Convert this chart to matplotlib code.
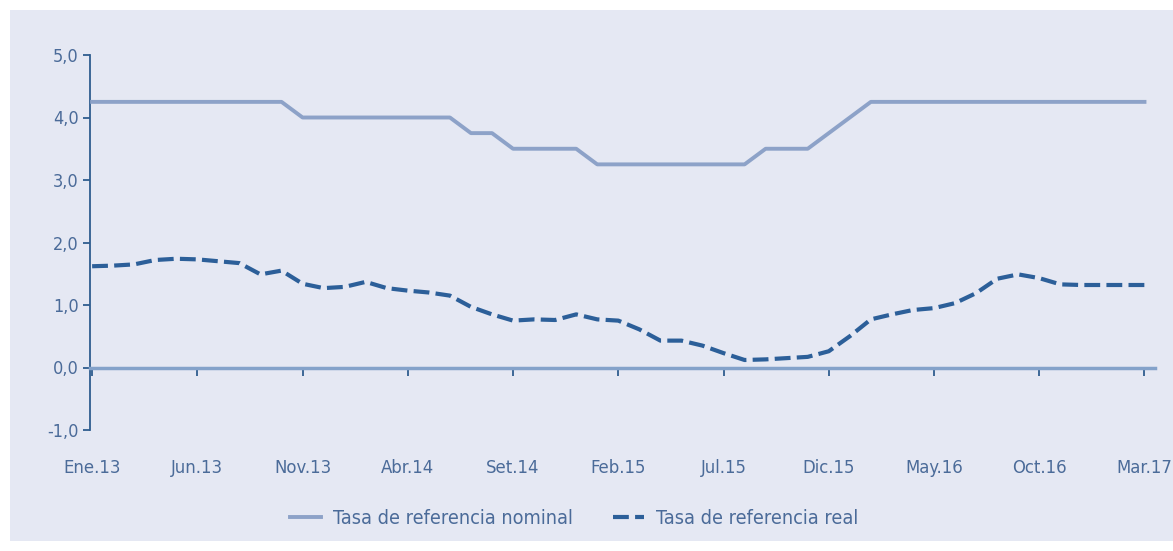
import matplotlib.pyplot as plt
import matplotlib.patches as mpatches
import numpy as np

months = ["Ene.13", "Jun.13", "Nov.13", "Abr.14", "Set.14", "Feb.15",
          "Jul.15", "Dic.15", "May.16", "Oct.16", "Mar.17"]

# monthly values, Ene.13 .. Mar.17 (51 months)
nominal = [4.25] * 10 + [4.00] * 8 + [3.75] * 2 + [3.50] * 4 + [3.25] * 8 \
    + [3.50] * 3 + [3.75, 4.00] + [4.25] * 14

real = [1.62, 1.63, 1.65, 1.72, 1.74, 1.73, 1.70, 1.67, 1.49, 1.55,
        1.34, 1.27, 1.29, 1.37, 1.27, 1.23, 1.20, 1.15, 0.97, 0.85,
        0.75, 0.77, 0.76, 0.85, 0.77, 0.75, 0.61, 0.43, 0.43, 0.35,
        0.23, 0.12, 0.13, 0.15, 0.17, 0.26, 0.50, 0.77, 0.85, 0.92,
        0.95, 1.03, 1.19, 1.42, 1.49, 1.43, 1.33, 1.32, 1.32, 1.32,
        1.32]

bg = "#e5e8f3"
txt = "#4b6b99"
c_nom = "#8da2c8"
c_real = "#2c5f99"

plt.rcParams['font.family'] = ['DejaVu Sans']
plt.rcParams['font.stretch'] = 'condensed'

fig = plt.figure(figsize=(11.73, 5.51), dpi=100)
fig.patch.set_facecolor("white")
# panel background
fig.patches.append(mpatches.Rectangle((10 / 1173, 10 / 551), 1 - 10 / 1173, 1 - 20 / 551,
                                      transform=fig.transFigure, facecolor=bg,
                                      edgecolor="none", zorder=-10))

ax = fig.add_axes([90 / 1173, 1 - 430 / 551, 1065 / 1173, 375 / 551])
ax.set_facecolor("none")

x = np.arange(len(real))
ax.plot(x, nominal, color=c_nom, lw=2.8, solid_joinstyle="round",
        label="Tasa de referencia nominal", zorder=3)
ax.plot(x, real, color=c_real, lw=3, dashes=(3.8, 1.5), dash_capstyle="butt",
        label="Tasa de referencia real", zorder=3)

ax.set_xlim(-0.1, 50.5)
ax.set_ylim(-1, 5)

for s in ["top", "right"]:
    ax.spines[s].set_visible(False)
ax.spines["left"].set_color("#2f5d8f")
ax.spines["left"].set_linewidth(1.3)
ax.spines["bottom"].set_position(("data", 0))
ax.spines["bottom"].set_color("#84a2ca")
ax.spines["bottom"].set_linewidth(2.5)

ax.set_yticks(np.arange(-1, 6, 1))
ax.set_yticklabels([f"{v:.1f}".replace(".", ",") for v in np.arange(-1, 6, 1)])
ax.set_xticks(np.arange(0, 51, 5))
ax.set_xticklabels(months)

ax.tick_params(axis="y", direction="out", length=5, width=1.3, color="#2f5d8f",
               labelsize=13, labelcolor=txt, pad=3)
ax.tick_params(axis="x", direction="out", length=6, width=1.3, color="#2f5d8f",
               labelsize=13.2, labelcolor=txt, pad=60)

leg = fig.legend(loc="center", bbox_to_anchor=(574 / 1173, 1 - 518 / 551), ncol=2,
                 frameon=False, fontsize=14.2, handlelength=1.6, columnspacing=2.0,
                 handletextpad=0.6)
for t in leg.get_texts():
    t.set_color(txt)

fig.savefig("out.png", dpi=100, facecolor=fig.get_facecolor())
plt.close(fig)
